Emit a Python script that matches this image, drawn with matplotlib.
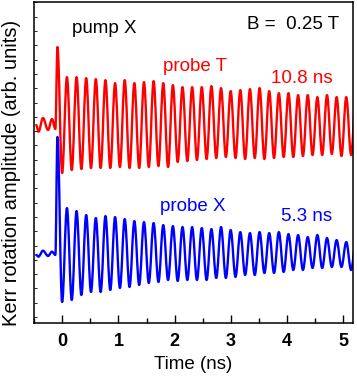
import numpy as np
import matplotlib
matplotlib.use('Agg')
import matplotlib.pyplot as plt
from matplotlib.path import Path
from matplotlib.patches import PathPatch

plt.rcParams['font.family'] = ['Liberation Sans', 'DejaVu Sans']

# precession period (ns)
period = 0.1712

# signal before t = 0: small wiggles, then the pump spike (time in ns, signal in arb. units)
red_pre_t = [-0.46, -0.42, -0.34, -0.25, -0.18, -0.12, -0.083]
red_pre = [13.43, 12.96, 13.92, 13.08, 13.85, 13.15, 18.88]
blue_pre_t = [-0.46, -0.42, -0.34, -0.25, -0.18, -0.12, -0.083]
blue_pre = [4.34, 4.22, 4.64, 4.27, 4.57, 4.34, 12.59]

# maxima and minima of each cycle after t = 0 (probe T, red)
red_peaks = [16.78, 16.78, 16.71, 16.64, 16.57, 16.36, 16.57, 16.36, 16.43, 16.50,
             16.36, 16.22, 16.08, 16.08, 16.08, 16.15, 16.01, 15.80, 15.87, 15.94,
             16.01, 15.80, 15.66, 15.66, 15.52, 15.52, 15.38, 15.52, 15.38, 15.38, 15.45]
red_troughs = [10.07, 10.28, 10.35, 10.42, 10.42, 10.42, 10.49, 10.42, 10.42, 10.49,
               10.56, 10.49, 10.84, 10.91, 10.98, 11.05, 11.12, 11.19, 11.12, 11.05,
               11.12, 11.05, 11.12, 11.19, 11.19, 11.26, 11.33, 11.33, 11.40, 11.26, 11.33]

# probe X, blue
blue_peaks = [7.62, 7.41, 7.13, 6.92, 7.06, 6.99, 6.85, 6.71, 6.64, 6.57,
              6.43, 6.36, 6.29, 6.29, 6.22, 6.15, 6.29, 6.08, 5.94, 5.87,
              5.94, 5.87, 5.94, 5.80, 5.73, 5.59, 5.73, 5.52, 5.38, 5.24, 5.30]
blue_troughs = [1.05, 1.19, 1.54, 1.75, 1.75, 1.89, 2.03, 2.10, 2.24, 2.38,
                2.45, 2.59, 2.52, 2.59, 2.59, 2.59, 2.73, 2.73, 2.80, 2.94,
                2.94, 3.08, 3.08, 3.15, 3.29, 3.29, 3.43, 3.43, 3.50, 3.50, 3.29]


def extrema(pre_t, pre, peaks, troughs):
    t = list(pre_t)
    y = list(pre)
    for k in range(len(troughs)):
        t.append(k * period)
        y.append(troughs[k])
        t.append((k + 0.5) * period)
        y.append(peaks[k])
    return t, y


def smooth_path(t, y):
    # cubic bezier with flat tangents at every extremum (~ half cosine)
    c = 0.3634
    verts = [(t[0], y[0])]
    codes = [Path.MOVETO]
    for i in range(1, len(t)):
        dt = t[i] - t[i - 1]
        verts += [(t[i - 1] + c * dt, y[i - 1]), (t[i] - c * dt, y[i]), (t[i], y[i])]
        codes += [Path.CURVE4] * 3
    return Path(verts, codes)


fig = plt.figure(figsize=(3.57, 3.78), dpi=100)
ax = fig.add_axes([0.0952, 0.1455, 0.8936, 0.8479])

for pre_t, pre, pk, tr, col in [(red_pre_t, red_pre, red_peaks, red_troughs, 'red'),
                                (blue_pre_t, blue_pre, blue_peaks, blue_troughs, 'blue')]:
    t, y = extrema(pre_t, pre, pk, tr)
    ax.add_patch(PathPatch(smooth_path(t, y), facecolor='none', edgecolor=col,
                           lw=1.7, joinstyle='round', capstyle='round'))

ax.set_xlim(-0.459, 5.17)
ax.set_ylim(-0.42, 22.0)

ax.set_xticks([0, 1, 2, 3, 4, 5])
ax.set_xticks(np.arange(-0.5, 5.5, 0.5), minor=True)
ax.set_yticks([])
ax.set_yticks(np.arange(0, 23, 1), minor=True)
ax.tick_params(axis='x', which='major', direction='in', length=6, width=1, pad=7, labelsize=13)
ax.tick_params(axis='x', which='minor', direction='in', length=3.5, width=1)
ax.tick_params(axis='y', which='minor', direction='in', length=2.5, width=0.6)
plt.setp(ax.get_xticklabels(), fontweight='bold')
for s in ax.spines.values():
    s.set_linewidth(1.1)

ax.set_xlabel('Time (ns)', fontsize=13.5)
ax.xaxis.set_label_coords(0.5, -0.103)
ax.set_ylabel('Kerr rotation amplitude (arb. units)', fontsize=14.5)
ax.yaxis.set_label_coords(-0.042, 0.468)

ax.text(0.176, 19.84, 'pump X', fontsize=13.5, color='black')
ax.text(3.294, 20.12, 'B =  0.25 T', fontsize=13.5, color='black')
ax.text(1.80, 17.2, 'probe T', fontsize=13.5, color='red')
ax.text(3.706, 16.34, '10.8 ns', fontsize=13.5, color='red')
ax.text(1.74, 7.41, 'probe X', fontsize=13.5, color='blue')
ax.text(3.882, 6.73, '5.3 ns', fontsize=13.5, color='blue')

fig.savefig('out.png', dpi=100)
